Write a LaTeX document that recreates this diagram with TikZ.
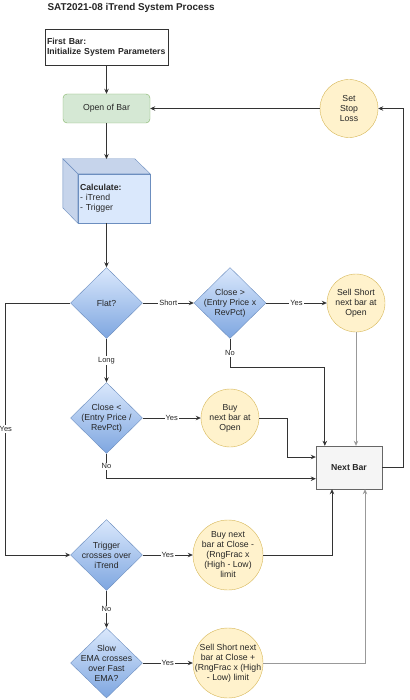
\documentclass[tikz,border=0pt]{standalone}
\usepackage{fontspec}
\setmainfont{Liberation Sans}
\usetikzlibrary{shapes.geometric,arrows.meta}

\definecolor{diaTop}{HTML}{DAE8FC}
\definecolor{diaBottom}{HTML}{7EA6E0}
\definecolor{diaLine}{HTML}{6C8EBF}
\definecolor{cubeSide}{HTML}{C6D4EB}
\definecolor{actFill}{HTML}{FFF2CC}
\definecolor{actLine}{HTML}{D6B656}
\definecolor{openFill}{HTML}{D5E8D4}
\definecolor{openLine}{HTML}{82B366}
\definecolor{barFill}{HTML}{F5F5F5}
\definecolor{barLine}{HTML}{666666}

\begin{document}
\begin{tikzpicture}[x = 1pt, y = -1pt,
	every node/.style = {font = \fontsize{8.7}{10}\selectfont, text = black!85},
	flow/.style = {draw = black!80, line width = 0.7pt, -{Stealth[length = 5pt, width = 4.5pt]}},
	grayflow/.style = {flow, draw = black!40, line width = 1pt},
	decision/.style = {diamond, draw = diaLine, top color = diaTop, bottom color = diaBottom,
		minimum width = 72pt, minimum height = 71pt, inner sep = 0pt},
	action/.style = {circle, draw = actLine, fill = actFill, inner sep = 0pt},
	lbl/.style = {align = center, inner sep = 0pt},
	yn/.style = {font = \fontsize{7.5}{9}\selectfont, fill = white, inner sep = 1pt}]
	\useasboundingbox (0,0) rectangle (409,700);

	% boxes
	\node[anchor = west, font = \bfseries\fontsize{9.9}{11}\selectfont] (title) at (44,8) {SAT2021-08 iTrend System Process};
	\node[draw = black!80, text width = 119pt, minimum height = 36pt, inner sep = 2pt, align = left,
		font = \bfseries\fontsize{8.7}{10}\selectfont] (init) at (106.5,47) {First Bar:\\Initialize System Parameters};
	\node[draw = openLine, fill = openFill, rounded corners = 4pt, minimum width = 87pt, minimum height = 29pt] (open) at (106.5,108.5) {Open of Bar};
	\node[draw = diaLine, fill = diaTop, minimum width = 72pt, minimum height = 49pt, text width = 68pt,
		inner sep = 2pt, align = left] (calc) at (114,198.5) {\textbf{Calculate:}\\- iTrend\\- Trigger};
	\filldraw[draw = diaLine, fill = cubeSide] (calc.north west) -- ++(-15,-15) -- ++(72,0) -- (calc.north east) -- cycle;
	\filldraw[draw = diaLine, fill = cubeSide] (calc.north west) -- ++(-15,-15) -- ++(0,49) -- (calc.south west) -- cycle;
	\coordinate (cubetop) at (106.5,159);

	\node[decision, label = {[lbl]center:Flat?}] (flat) at (106.5,303) {};
	\node[decision, label = {[lbl]center:{Close >\\(Entry Price x\\RevPct)}}] (closeGt) at (230,303) {};
	\node[action, minimum size = 58pt, label = {[lbl]center:{Sell Short\\next bar at\\Open}}] (sellOpen) at (356,303) {};
	\node[action, minimum size = 58pt, label = {[lbl]center:{Set\\Stop\\Loss}}] (stopLoss) at (349,108.5) {};
	\node[decision, label = {[lbl]center:{Close <\\(Entry Price /\\RevPct)}}] (closeLt) at (106.5,418) {};
	\node[action, minimum size = 58pt, label = {[lbl]center:{Buy\\next bar at\\Open}}] (buyOpen) at (230,418) {};
	\node[draw = barLine, fill = barFill, minimum width = 66pt, minimum height = 43pt, font = \bfseries\fontsize{8.7}{10}\selectfont] (nextBar) at (349,467.5) {Next Bar};
	\node[decision, label = {[lbl]center:{Trigger\\crosses over\\iTrend}}] (trigger) at (106.5,555) {};
	\node[action, minimum size = 70pt, label = {[lbl]center:{Buy next\\bar at Close -\\(RngFrac x\\(High - Low)\\limit}}] (buyClose) at (228,555) {};
	\node[decision, minimum height = 70pt, label = {[lbl]center:{Slow\\EMA crosses\\over Fast\\EMA?}}] (slowEma) at (106.5,663) {};
	\node[action, minimum size = 70pt, label = {[lbl]center:{Sell Short next\\bar at Close +\\(RngFrac x (High\\- Low) limit}}] (sellClose) at (228,663) {};

	% connectors
	\draw[flow] (init) -- (open);
	\draw[flow] (open) -- (cubetop);
	\draw[flow] (calc.south -| flat) -- (flat);
	\draw[flow] (flat) -- node[yn]{Short} (closeGt);
	\draw[flow] (closeGt) -- node[yn]{Yes} (sellOpen);
	\draw[flow] (closeGt.south) -- node[yn]{No} ++(0,29) -| ([xshift = 9pt]nextBar.north west);
	\draw[grayflow] (sellOpen) -- (sellOpen |- nextBar.north);
	\draw[flow] (flat) -- node[yn]{Long} (closeLt);
	\draw[flow] (closeLt) -- node[yn]{Yes} (buyOpen);
	\draw[flow] (buyOpen.east) -- ++(28,0) |- ([yshift = 10.5pt]nextBar.west);
	\draw[flow] (closeLt.south) -- node[yn]{No} ++(0,25) coordinate (noLt) -- (noLt -| nextBar.west);
	\draw[flow] (flat.west) -- ++(-64.5,0) |- node[yn, pos = 0.25]{Yes} (trigger.west);
	\draw[flow] (trigger) -- node[yn]{Yes} (buyClose);
	\draw[flow] (buyClose.east) -| ([xshift = -17pt]nextBar.south);
	\draw[flow] (trigger) -- node[yn]{No} (slowEma);
	\draw[flow] (slowEma) -- node[yn]{Yes} (sellClose);
	\draw[grayflow] (sellClose.east) -| ([xshift = 16pt]nextBar.south);
	\draw[flow] (nextBar.east) -- ++(21,0) |- (stopLoss.east);
	\draw[flow] (stopLoss) -- (open);
\end{tikzpicture}
\end{document}
